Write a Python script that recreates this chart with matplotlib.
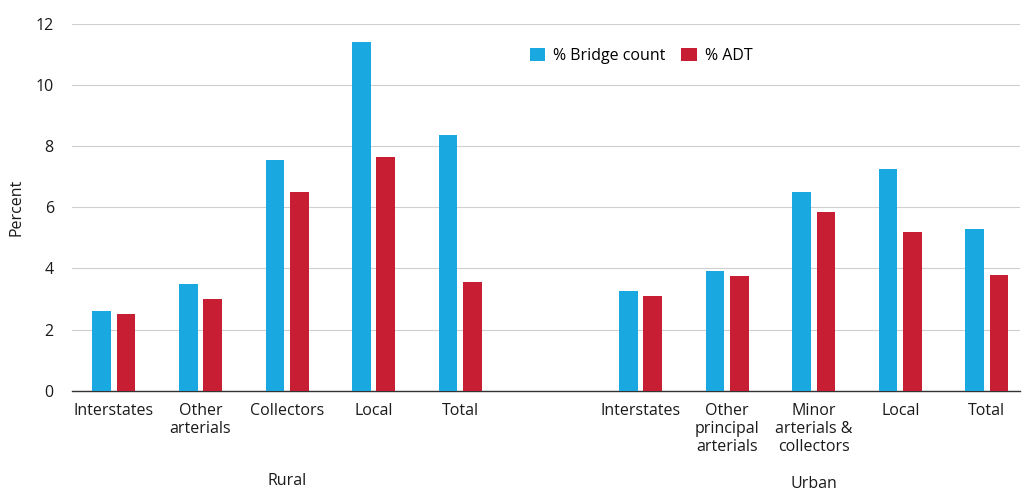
import numpy as np
import matplotlib
matplotlib.use('Agg')
import matplotlib.pyplot as plt

plt.rcParams['font.family'] = ['Open Sans', 'DejaVu Sans']

rural_labels = ['Interstates', 'Other\narterials', 'Collectors', 'Local', 'Total']
urban_labels = ['Interstates', 'Other\nprincipal\narterials', 'Minor\narterials &\ncollectors', 'Local', 'Total']
rural_bridge = [2.6, 3.5, 7.55, 11.4, 8.35]
rural_adt = [2.5, 3.0, 6.5, 7.65, 3.55]
urban_bridge = [3.25, 3.9, 6.5, 7.25, 5.3]
urban_adt = [3.1, 3.75, 5.85, 5.2, 3.8]
yticks = [0, 2, 4, 6, 8, 10, 12]

blue = '#1aa8e0'
red = '#c81e34'
fs = 11.5

fig = plt.figure(figsize=(10.26, 4.93), dpi=100)
ax = fig.add_axes([0.070, 0.2075, 0.924, 0.744])

x_r = np.arange(5)
x_u = np.arange(5) + 6.08
xs = np.concatenate([x_r, x_u])
bridge = rural_bridge + urban_bridge
adt = rural_adt + urban_adt
w = 0.215
off = 0.14
ax.bar(xs - off, bridge, width=w, color=blue, label='% Bridge count', zorder=3)
ax.bar(xs + off, adt, width=w, color=red, label='% ADT', zorder=3)

ax.set_xlim(-0.485, 10.46)
ax.set_ylim(0, 12)
ax.set_yticks(yticks)
ax.tick_params(axis='y', length=0, labelsize=fs, pad=13, colors='#1a1a1a')
ax.tick_params(axis='x', length=0, labelsize=fs, pad=9, colors='#1a1a1a')
ax.set_xticks(xs)
ax.set_xticklabels(rural_labels + urban_labels, linespacing=1.15)
ax.yaxis.grid(True, color='#cfcfcf', linewidth=0.8, zorder=0)
for s in ['left', 'right', 'top']:
    ax.spines[s].set_visible(False)
ax.spines['bottom'].set_color('#333333')
ax.spines['bottom'].set_linewidth(1.0)
ax.set_ylabel('Percent', fontsize=fs, labelpad=8, color='#1a1a1a')

ax.text(2, -0.245, 'Rural', transform=ax.get_xaxis_transform(), ha='center', va='center',
        fontsize=fs, color='#1a1a1a')
ax.text(8.08, -0.255, 'Urban', transform=ax.get_xaxis_transform(), ha='center', va='center',
        fontsize=fs, color='#1a1a1a')

ax.legend(loc='center left', bbox_to_anchor=(0.468, 0.913), ncol=2, frameon=False,
          fontsize=fs, handlelength=0.95, handleheight=0.95, handletextpad=0.5,
          columnspacing=1.0)

fig.savefig('out.png', dpi=100)
